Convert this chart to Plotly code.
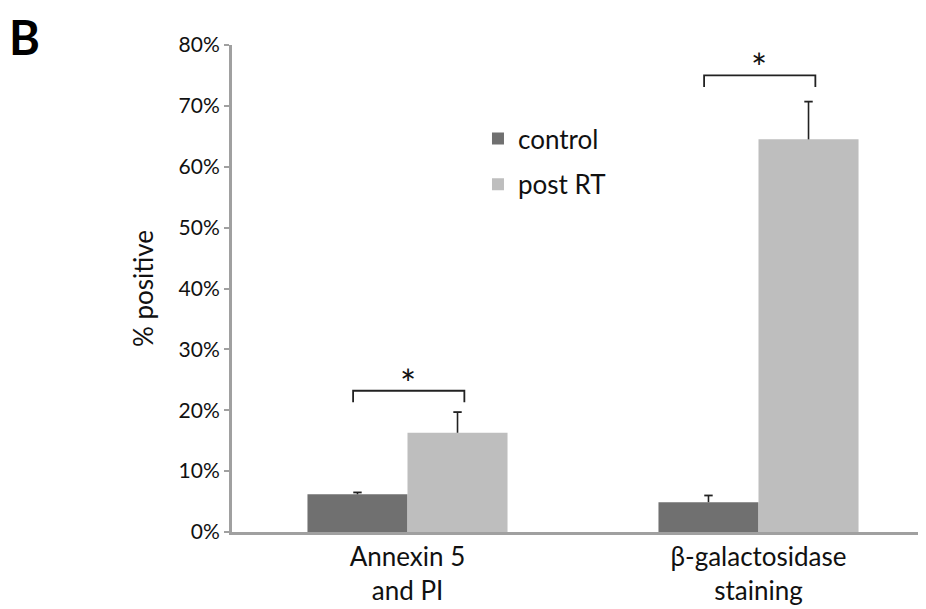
import plotly.graph_objects as go

categories = ["Annexin 5<br>and PI", "β-galactosidase<br>staining"]
control_vals = [0.062, 0.049]
control_err = [0.003, 0.011]
post_vals = [0.163, 0.645]
post_err = [0.034, 0.062]
tick_vals = [0, 0.1, 0.2, 0.3, 0.4, 0.5, 0.6, 0.7, 0.8]
tick_text = ["0%", "10%", "20%", "30%", "40%", "50%", "60%", "70%", "80%"]
sig_y = [0.232, 0.75]
sig_drop = 0.019

FONT = "Lato"
BAR_W = 0.285
CAP = 0.012
xpos = list(range(len(categories)))

fig = go.Figure()
fig.add_trace(go.Bar(
    x=xpos, y=control_vals, name="control", legendgroup="a",
    width=BAR_W, offset=-BAR_W,
    marker=dict(color="#707070", line=dict(width=0)),
))
fig.add_trace(go.Bar(
    x=xpos, y=post_vals, name="post RT", legendgroup="b",
    width=BAR_W, offset=0,
    marker=dict(color="#bebebe", line=dict(width=0)),
))

shapes = []
annotations = []
# error bars (upper only), placed at bar centres
for vals, errs, off in [(control_vals, control_err, -BAR_W / 2), (post_vals, post_err, BAR_W / 2)]:
    for xi, v, e in zip(xpos, vals, errs):
        xc = xi + off
        shapes.append(dict(type="line", xref="x", yref="y", x0=xc, x1=xc, y0=v, y1=v + e,
                           line=dict(color="#222222", width=1.6)))
        shapes.append(dict(type="line", xref="x", yref="y", x0=xc - CAP, x1=xc + CAP, y0=v + e, y1=v + e,
                           line=dict(color="#222222", width=1.8)))

for i, yv in enumerate(sig_y):
    x0 = xpos[i] - 0.155
    x1 = xpos[i] + 0.162
    shapes.append(dict(type="path", xref="x", yref="y",
                       path=f"M {x0},{yv - sig_drop} L {x0},{yv} L {x1},{yv} L {x1},{yv - sig_drop}",
                       line=dict(color="#222222", width=1.8)))
    annotations.append(dict(x=xpos[i], y=yv, xref="x", yref="y", text="*", showarrow=False,
                            yanchor="middle", yshift=8, font=dict(family=FONT, size=38, color="#111111")))

annotations.append(dict(x=-0.319, y=1.076, xref="paper", yref="paper", text="<b>B</b>",
                        showarrow=False, xanchor="left", yanchor="top", borderpad=0,
                        font=dict(family=FONT, size=47, color="#000000")))

fig.update_layout(
    width=926, height=609,
    margin=dict(l=224, r=0, t=37, b=85),
    paper_bgcolor="white", plot_bgcolor="white",
    barmode="overlay",
    font=dict(family=FONT, color="#111111"),
    showlegend=True,
    legend=dict(x=0.3504, y=0.856, xanchor="left", yanchor="top",
                font=dict(family=FONT, size=26, color="#111111"),
                tracegroupgap=9, bgcolor="rgba(0,0,0,0)"),
    shapes=shapes,
    annotations=annotations,
    xaxis=dict(range=[-0.5, 1.5], tickvals=xpos, ticktext=categories,
               showline=True, linecolor="#a0a0a0", linewidth=3, ticks="",
               showgrid=False, zeroline=False,
               tickfont=dict(family=FONT, size=26, color="#111111")),
    yaxis=dict(range=[0, 0.8], tickvals=tick_vals, ticktext=tick_text,
               showline=True, linecolor="#a0a0a0", linewidth=3,
               ticks="outside", ticklen=5, tickwidth=2, tickcolor="#a0a0a0",
               showgrid=False, zeroline=False,
               tickfont=dict(family=FONT, size=21, color="#111111"),
               title=dict(text="% positive", font=dict(family=FONT, size=26, color="#111111"),
                          standoff=18)),
)

fig.write_html("out.html")
